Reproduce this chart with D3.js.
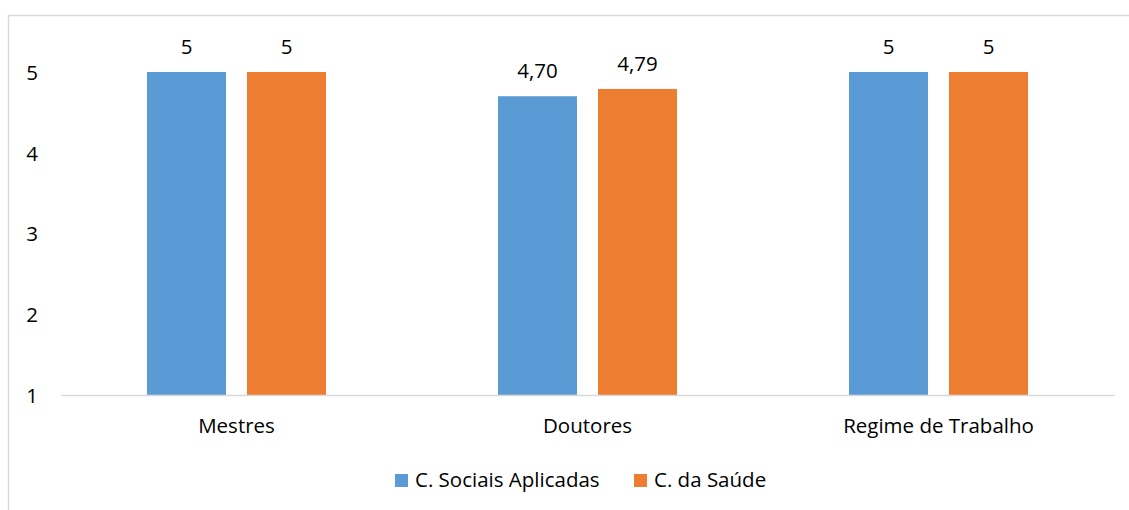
<!DOCTYPE html>
<html><head><meta charset="utf-8">
<script src="https://cdn.jsdelivr.net/npm/d3@7"></script>
<style>body{margin:0;background:#fff;} svg{display:block;} text{font-family:"Open Sans",sans-serif;}</style>
</head><body><svg id="c" width="1129" height="510"></svg>
<script>
const categories = ["Mestres", "Doutores", "Regime de Trabalho"];
const seriesNames = ["C. Sociais Aplicadas", "C. da Saúde"];
const sociais = [5, 4.70, 5];
const saude = [5, 4.79, 5];
const valueLabels = [["5", "4,70", "5"], ["5", "4,79", "5"]];
const yTicks = [1, 2, 3, 4, 5];
const colors = ["#5b9bd5", "#ed7d31"];

const svg = d3.select("#c");
const fs = 20.5;
svg.append("rect").attr("x", 8.5).attr("y", 15.5).attr("width", 1140).attr("height", 520)
  .attr("fill", "none").attr("stroke", "#d9d9d9").attr("stroke-width", 1.5);

const x0 = d3.scaleBand().domain(categories).range([61, 1114]);
const x1 = d3.scaleBand().domain(seriesNames).range([0, 179]).paddingInner(0.21);
const y = d3.scaleLinear().domain([1, 5]).range([395, 72]);

const yAxis = d3.axisLeft(y).tickValues(yTicks).tickSize(0).tickPadding(0).tickFormat(d3.format("d"));
const gy = svg.append("g").attr("transform", "translate(32,0)").call(yAxis);
gy.attr("font-family", null).attr("font-size", null);
gy.select(".domain").remove();
gy.selectAll("text").attr("font-size", fs).attr("fill", "#000").attr("text-anchor", "middle").attr("dy", "0.36em");

const series = [sociais, saude];
categories.forEach((c, i) => {
  const cx = x0(c) + x0.bandwidth() / 2 - 89.5;
  series.forEach((s, j) => {
    const bx = cx + x1(seriesNames[j]);
    svg.append("rect").attr("x", bx).attr("y", y(s[i])).attr("width", x1.bandwidth())
      .attr("height", y(1) - y(s[i])).attr("fill", colors[j]);
    svg.append("text").attr("x", bx + x1.bandwidth() / 2).attr("y", y(s[i]) - 18)
      .attr("text-anchor", "middle").attr("font-size", fs).attr("fill", "#000").text(valueLabels[j][i]);
  });
});

const xAxis = d3.axisBottom(x0).tickSize(0).tickPadding(0);
const gx = svg.append("g").attr("transform", "translate(0,395)").call(xAxis);
gx.attr("font-family", null).attr("font-size", null);
gx.select(".domain").attr("stroke", "#d9d9d9").attr("stroke-width", 1.5);
gx.selectAll("text").attr("font-size", fs).attr("fill", "#000").attr("y", 38).attr("dy", 0);

const legend = svg.append("g");
const lx = [395, 634];
seriesNames.forEach((n, j) => {
  legend.append("rect").attr("x", lx[j]).attr("y", 474).attr("width", 13).attr("height", 13).attr("fill", colors[j]);
  legend.append("text").attr("x", lx[j] + 20).attr("y", 487).attr("font-size", fs).attr("fill", "#000").text(n);
});
</script></body></html>
